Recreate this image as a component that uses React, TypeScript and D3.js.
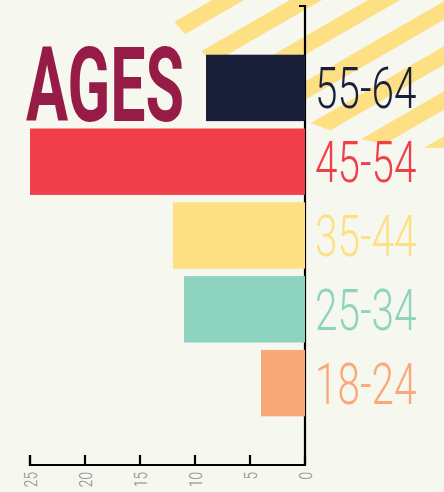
import React from 'react';
import { scaleBand, scaleLinear, scaleOrdinal, range } from 'd3';

const ageGroups = ['55-64', '45-54', '35-44', '25-34', '18-24'];
const counts = [9, 25, 12, 11, 4];
const xTicks = [0, 5, 10, 15, 20, 25];
const palette = ['#1b203a', '#f03e4b', '#fde084', '#8ed3c0', '#f9a878'];

const width = 444;
const height = 492;
const bg = '#f6f7ee';
const stripeColor = '#fde084';

const Stripes = () => {
  // diagonal stripes at 30deg, clipped by a big circle off the top-right
  const dir = [Math.cos(Math.PI / 6), -Math.sin(Math.PI / 6)];
  const nrm = [Math.sin(Math.PI / 6), Math.cos(Math.PI / 6)];
  const offsets = range(114, 560, 39);
  return (
    <g clipPath="url(#stripeClip)">
      {offsets.map(d => {
        const cx = d * nrm[0];
        const cy = d * nrm[1];
        return (
          <line
            key={d}
            x1={cx - dir[0] * 800}
            y1={cy - dir[1] * 800}
            x2={cx + dir[0] * 800}
            y2={cy + dir[1] * 800}
            stroke={stripeColor}
            strokeWidth={16}
          />
        );
      })}
    </g>
  );
};

const App = () => {
  const margin = { top: 6, right: 139, bottom: 27, left: 30 };
  const x0 = width - margin.right;
  const axisY = height - margin.bottom;

  const xScale = scaleLinear().domain([0, 25]).range([x0, margin.left]);
  const yScale = scaleBand()
    .domain(ageGroups)
    .range([51, 420])
    .paddingInner(0.1)
    .paddingOuter(0.05);
  const color = scaleOrdinal<string, string>().domain(ageGroups).range(palette);

  return (
    <svg
      width={width}
      height={height}
      style={{ position: 'absolute', left: 0, top: 0 }}
    >
      <defs>
        <clipPath id="stripeClip">
          <circle cx={438} cy={-190} r={338} />
        </clipPath>
      </defs>
      <rect width={width} height={height} fill={bg} />
      <Stripes />

      {/* axes */}
      <path
        d={`M ${x0 - 6} ${margin.top} H ${x0} V ${axisY} H ${margin.left} V ${axisY - 10}`}
        fill="none"
        stroke="black"
        strokeWidth={2.2}
      />
      {xTicks.map(t => (
        <g key={t} transform={`translate(${xScale(t)}, ${axisY})`}>
          <line y1={0} y2={-10} stroke="black" strokeWidth={2.2} />
          <text
            transform={`translate(0, 7) rotate(-90) scale(0.72, 1)`}
            dy="0.36em"
            textAnchor="end"
            fill="#8a8a8a"
            style={{ fontFamily: 'Roboto', fontWeight: 300, fontSize: '19px' }}
          >
            {t}
          </text>
        </g>
      ))}

      {/* title */}
      <text
        x={26}
        y={121}
        textLength={158}
        lengthAdjust="spacingAndGlyphs"
        fill="#971b47"
        style={{ fontFamily: 'Roboto', fontWeight: 700, fontSize: '104px' }}
      >
        AGES
      </text>

      {/* bars */}
      {ageGroups.map((g, i) => {
        const yv = yScale(g) as number;
        const bw = yScale.bandwidth();
        return (
          <g key={g}>
            <rect
              x={xScale(counts[i])}
              y={yv}
              width={x0 - xScale(counts[i])}
              height={bw}
              fill={color(g)}
            />
            <text
              transform={`translate(${x0 + 10}, ${yv + bw / 2 + 20.5}) scale(0.71, 1)`}
              fill={color(g)}
              style={{ fontFamily: 'Roboto', fontWeight: 300, fontSize: '57px' }}
            >
              {g}
            </text>
          </g>
        );
      })}
    </svg>
  );
};

export default App;
